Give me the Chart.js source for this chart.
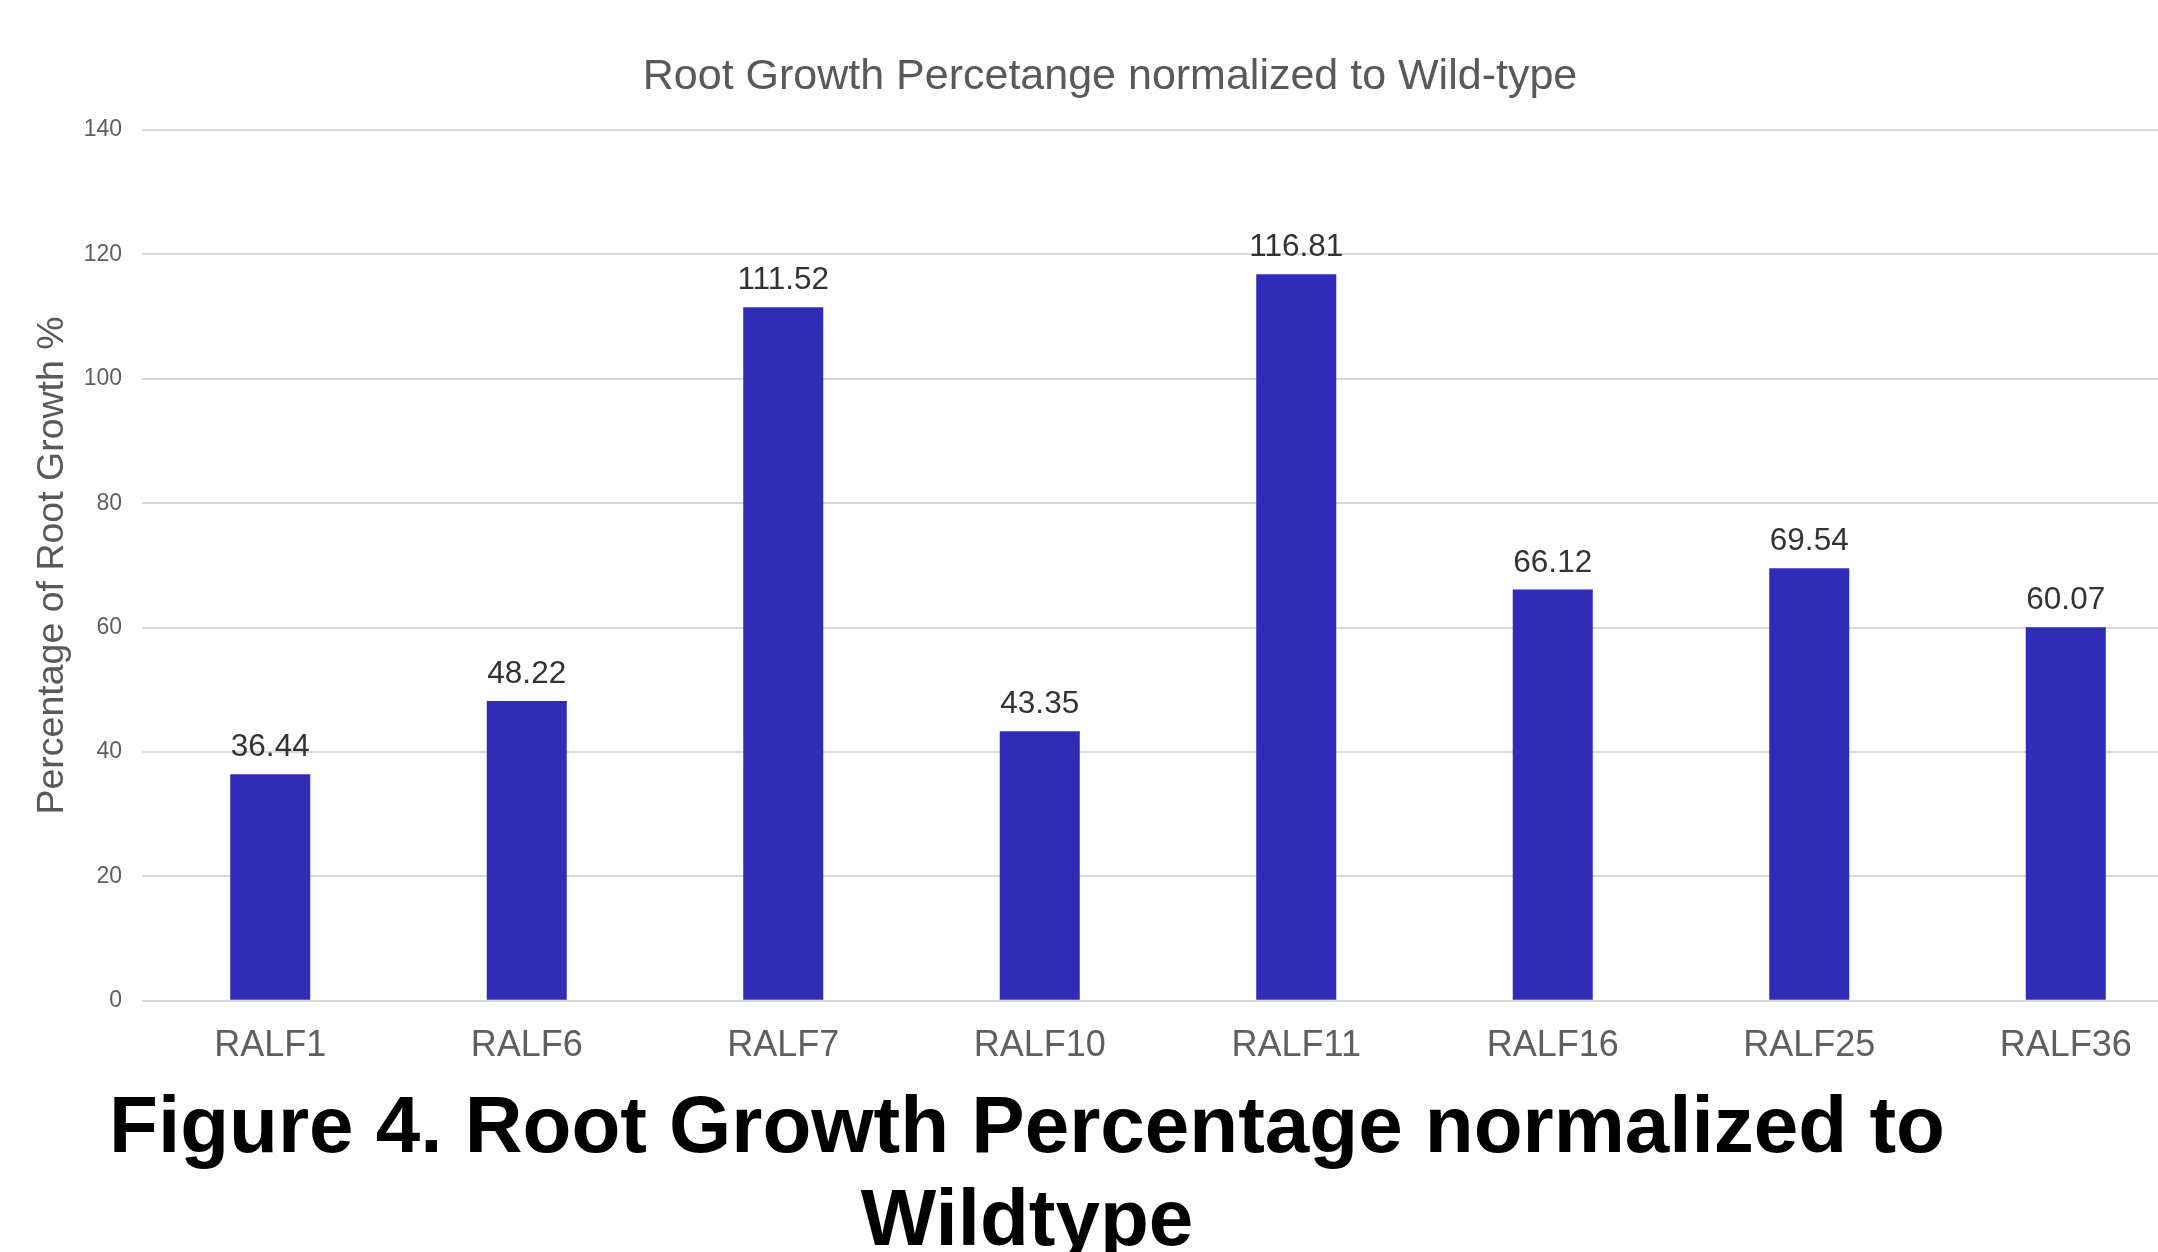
<!DOCTYPE html>
<html>
<head>
    <title>Root Growth Percentage</title>
    <script src="https://cdn.jsdelivr.net/npm/chart.js"></script>
    <style>
        html, body { margin: 0; padding: 0; background: #fff; overflow: hidden; }
        #wrap { position: relative; width: 2158px; height: 1252px; overflow: hidden; }
        #rootChart { position: absolute; left: 0; top: 0; }
        .caption {
            position: absolute; left: 0; top: 1078px; width: 2054px;
            text-align: center; font-family: 'Liberation Sans', Arial, sans-serif;
            font-weight: bold; font-size: 80px; line-height: 93px; color: #000;
        }
    </style>
</head>
<body>
<div id="wrap">
    <canvas id="rootChart" width="2194" height="1092"></canvas>
    <div class="caption">Figure 4. Root Growth Percentage normalized to<br>Wildtype</div>
</div>

<script>
const categories = ['RALF1', 'RALF6', 'RALF7', 'RALF10', 'RALF11', 'RALF16', 'RALF25', 'RALF36'];
const growthPct = [36.44, 48.22, 111.52, 43.35, 116.81, 66.12, 69.54, 60.07];
const yMin = 0;
const yMax = 140;
const yStep = 20;

const FONT = "'Liberation Sans', Arial, sans-serif";

// draws the value above each bar
const barValues = {
    id: 'barValues',
    afterDatasetsDraw(chart) {
        const ctx = chart.ctx;
        const meta = chart.getDatasetMeta(0);
        ctx.save();
        ctx.font = '31.5px ' + FONT;
        ctx.fillStyle = '#333333';
        ctx.textAlign = 'center';
        ctx.textBaseline = 'alphabetic';
        meta.data.forEach((bar, i) => {
            ctx.fillText(growthPct[i].toFixed(2), bar.x, bar.y - 18);
        });
        ctx.restore();
    }
};

const ctx = document.getElementById('rootChart').getContext('2d');
new Chart(ctx, {
    type: 'bar',
    data: {
        labels: categories,
        datasets: [{
            label: 'Root Growth %',
            data: growthPct,
            backgroundColor: '#2f2db8',
            borderWidth: 0,
            categoryPercentage: 1.0,
            barPercentage: 0.312
        }]
    },
    options: {
        responsive: false,
        animation: false,
        layout: { padding: { left: 26, right: 0, top: 0, bottom: 0 } },
        plugins: {
            legend: { display: false },
            tooltip: { enabled: false },
            title: {
                display: true,
                text: 'Root Growth Percetange normalized to Wild-type',
                color: '#595959',
                font: { family: FONT, size: 43, weight: 'normal' },
                padding: { top: 51, bottom: 27.5 }
            }
        },
        scales: {
            x: {
                grid: { display: false, drawTicks: false },
                border: { display: false },
                ticks: {
                    color: '#5f5f5f',
                    font: { family: FONT, size: 36 },
                    padding: 24,
                    maxRotation: 0,
                    autoSkip: false
                }
            },
            y: {
                min: yMin,
                max: yMax,
                afterFit(scale) { scale.width = 116; },
                grid: { color: '#d9d9d9', lineWidth: 2, drawTicks: false },
                border: { display: false },
                ticks: {
                    stepSize: yStep,
                    color: '#5f5f5f',
                    font: { family: FONT, size: 23 },
                    padding: 20
                },
                title: {
                    display: true,
                    text: 'Percentage of Root Growth %',
                    color: '#595959',
                    font: { family: FONT, size: 37.5 },
                    padding: { top: 4, bottom: 10 }
                }
            }
        }
    },
    plugins: [barValues]
});
</script>
</body>
</html>
